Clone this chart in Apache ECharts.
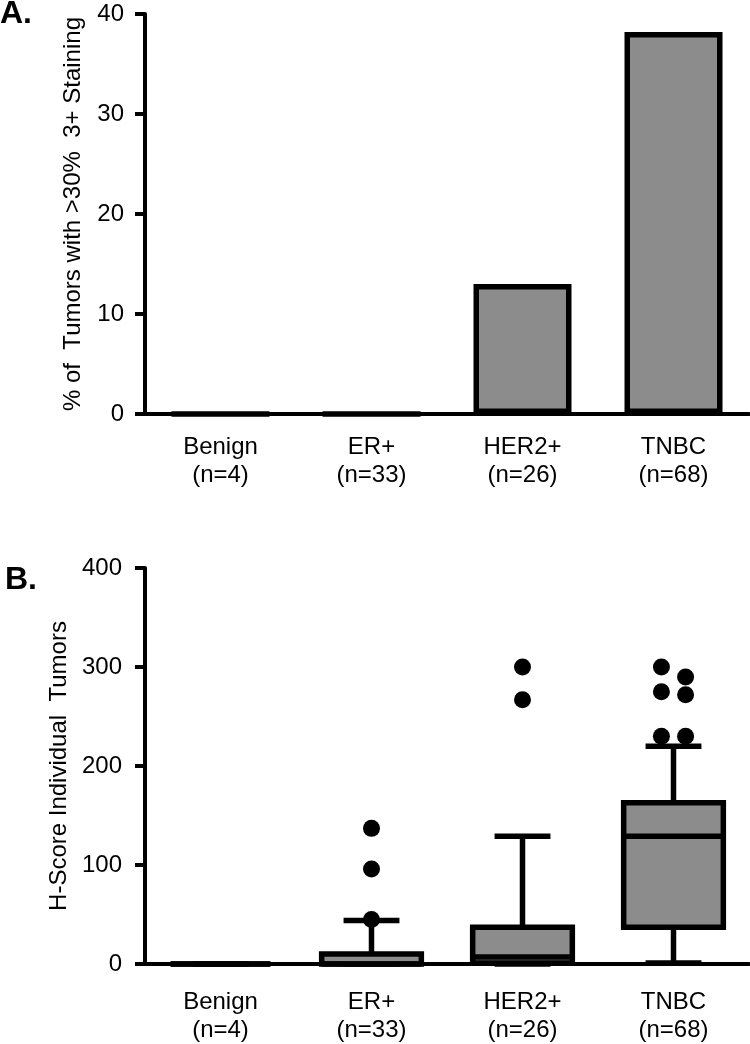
<!DOCTYPE html>
<html><head><meta charset="utf-8">
<script src="https://cdn.jsdelivr.net/npm/echarts@6/dist/echarts.min.js"></script>
<style>html,body{margin:0;padding:0;background:#fff}#c{width:750px;height:1044px}</style>
</head><body><div id="c"></div>
<script>
// ---- data ----
const categories = ['Benign\n(n=4)', 'ER+\n(n=33)', 'HER2+\n(n=26)', 'TNBC\n(n=68)'];
const pctStrongStaining = [0, 0, 13.0, 38.2];
const pctTicks = [0, 10, 20, 30, 40];
const hScoreTicks = [0, 100, 200, 300, 400];
const boxMin = [0, 0, 0, 1];
const boxQ1 = [0, 0, 1, 37];
const boxMedian = [0, 0, 7, 129];
const boxQ3 = [0, 10, 37, 163];
const boxMax = [0, 44, 129, 220];
const outlierGroup = [1, 1, 1, 2, 2, 3, 3, 3, 3, 3, 3];
const outlierValue = [45, 96, 137, 267, 300, 300, 290, 275, 272, 230, 230];

// ---- build ----
const FONT = 'Liberation Sans, Arial, Helvetica, sans-serif';
const BLACK = '#000';
const GREY = '#8c8c8c';

// spread outliers that sit close together into centered rows
function outlierPoints() {
  const pts = [];
  const groups = [...new Set(outlierGroup)];
  groups.forEach(g => {
    const vals = outlierValue.filter((v, i) => outlierGroup[i] === g).sort((a, b) => b - a);
    let rows = [];
    vals.forEach(v => {
      const r = rows[rows.length - 1];
      if (r && r[0] - v <= 20) r.push(v); else rows.push([v]);
    });
    rows.forEach(r => r.forEach((v, k) => pts.push([g, v, k - (r.length - 1) / 2])));
  });
  return pts;
}

function xAxisCfg(gridIndex, margin) {
  return {
    type: 'category', gridIndex, data: categories, boundaryGap: true,
    axisLine: { lineStyle: { color: BLACK, width: 4 } },
    axisTick: { alignWithLabel: true, length: 10, lineStyle: { color: BLACK, width: 4 } },
    axisLabel: { color: BLACK, fontSize: 24, fontFamily: FONT, lineHeight: 28, margin, interval: 0 }
  };
}
function yAxisCfg(gridIndex, ticks, name, nameGap, margin) {
  return {
    type: 'value', gridIndex, min: ticks[0], max: ticks[ticks.length - 1], interval: ticks[1] - ticks[0],
    name, nameLocation: 'middle', nameRotate: 90, nameGap,
    nameTextStyle: { color: BLACK, fontSize: 24, fontFamily: FONT },
    axisLine: { show: true, lineStyle: { color: BLACK, width: 4 } },
    axisTick: { show: true, length: 10, lineStyle: { color: BLACK, width: 4 } },
    axisLabel: { color: BLACK, fontSize: 24, fontFamily: FONT, margin },
    splitLine: { show: false }
  };
}

function renderBox(params, api) {
  const idx = api.value(0);
  const c = v => api.coord([idx, v]);
  const band = api.size([1, 0])[0];
  const w = band * 0.66, capW = band * 0.37;
  const pMin = c(api.value(1)), pQ1 = c(api.value(2)), pMed = c(api.value(3)), pQ3 = c(api.value(4)), pMax = c(api.value(5));
  const cx = pMed[0];
  const st = { stroke: BLACK, lineWidth: 5.5, fill: null };
  return { type: 'group', children: [
    { type: 'line', shape: { x1: cx, y1: pQ3[1], x2: cx, y2: pMax[1] }, style: st },
    { type: 'line', shape: { x1: cx - capW / 2, y1: pMax[1], x2: cx + capW / 2, y2: pMax[1] }, style: st },
    { type: 'line', shape: { x1: cx, y1: pQ1[1], x2: cx, y2: pMin[1] }, style: st },
    { type: 'line', shape: { x1: cx - capW / 2, y1: pMin[1], x2: cx + capW / 2, y2: pMin[1] }, style: st },
    { type: 'rect', shape: { x: cx - w / 2, y: pQ3[1], width: w, height: pQ1[1] - pQ3[1] }, style: { fill: GREY, stroke: BLACK, lineWidth: 5.5 } },
    { type: 'line', shape: { x1: cx - w / 2, y1: pMed[1], x2: cx + w / 2, y2: pMed[1] }, style: st }
  ] };
}
function renderOutlier(params, api) {
  const p = api.coord([api.value(0), api.value(1)]);
  const off = api.value(2) * api.size([1, 0])[0] * 0.16;
  return { type: 'circle', shape: { cx: p[0] + off, cy: p[1], r: 8.5 }, style: { fill: BLACK } };
}

const boxData = categories.map((_, i) => [i, boxMin[i], boxQ1[i], boxMedian[i], boxQ3[i], boxMax[i]]);

const chart = echarts.init(document.getElementById('c'), null, { renderer: 'canvas' });
chart.setOption({
  animation: false,
  backgroundColor: '#fff',
  title: [
    { text: 'A.', left: 0, top: -2, padding: 0, textStyle: { fontSize: 32, fontWeight: 'bold', fontFamily: FONT, color: BLACK } },
    { text: 'B.', left: 5, top: 564, padding: 0, textStyle: { fontSize: 32, fontWeight: 'bold', fontFamily: FONT, color: BLACK } }
  ],
  grid: [
    { left: 145, right: 1, top: 14, height: 400, containLabel: false },
    { left: 145, right: 1, top: 568, height: 399, containLabel: false }
  ],
  xAxis: [xAxisCfg(0, 19), xAxisCfg(1, 24)],
  yAxis: [
    yAxisCfg(0, pctTicks, '% of  Tumors with >30%  3+ Staining', 60, 21),
    yAxisCfg(1, hScoreTicks, 'H-Score Individual  Tumors', 74, 23)
  ],
  series: [
    { type: 'bar', xAxisIndex: 0, yAxisIndex: 0, data: pctStrongStaining, barWidth: 98,
      itemStyle: { color: GREY, borderColor: BLACK, borderWidth: 5.5 }, z: 3 },
    { type: 'custom', xAxisIndex: 1, yAxisIndex: 1, data: boxData, renderItem: renderBox,
      encode: { x: 0, y: [1, 2, 3, 4, 5] }, z: 3 },
    { type: 'custom', xAxisIndex: 1, yAxisIndex: 1, data: outlierPoints(), renderItem: renderOutlier,
      encode: { x: 0, y: 1 }, z: 4 }
  ]
});
</script>
</body></html>
